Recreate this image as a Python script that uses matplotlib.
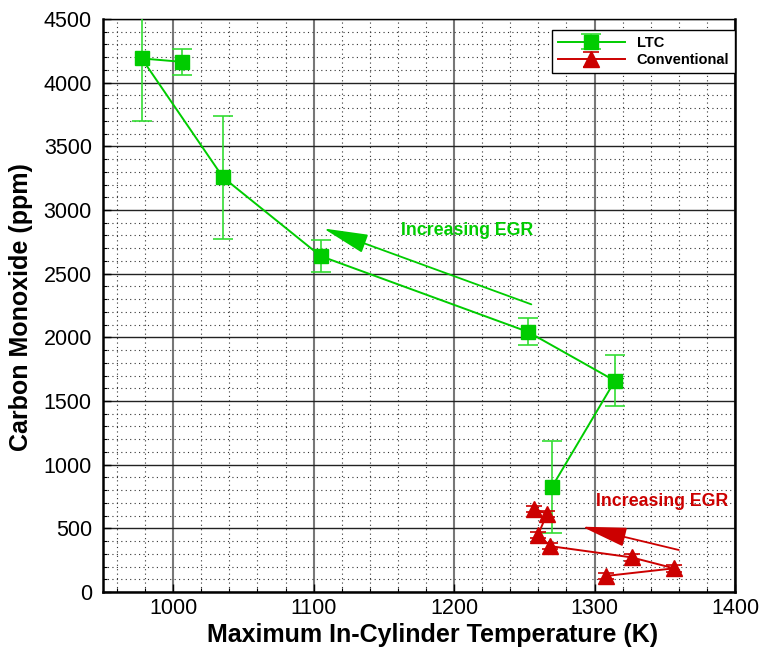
import numpy as np
import matplotlib.pyplot as plt
from matplotlib.ticker import MultipleLocator

# LTC runs (temperature K, CO ppm, error ppm)
ltc_temp = [1006.6, 977.6, 1035.5, 1105.0, 1252.6, 1314.5, 1269.8]
ltc_co = [4163, 4190, 3256, 2638, 2043, 1659, 827]
ltc_err = [105, 490, 480, 125, 105, 200, 360]

# conventional runs
conv_temp = [1256.9, 1266.2, 1259.8, 1268.6, 1326.4, 1356.6, 1308.0]
conv_co = [650, 615, 450, 360, 272, 186, 126]
conv_err = [25, 25, 25, 25, 25, 25, 25]

# EGR direction arrows (tail -> head)
ltc_arrow = [(1255, 2259), (1107, 2855)]
conv_arrow = [(1360, 330), (1291, 513)]

green = '#00cc00'
red = '#cc0000'

plt.rcParams['font.family'] = ['Liberation Sans', 'DejaVu Sans']

fig = plt.figure(figsize=(7.61, 6.52), dpi=100)
ax = fig.add_axes([0.1353, 0.092, 0.8305, 0.8789])

ax.errorbar(ltc_temp, ltc_co, yerr=ltc_err, color=green, marker='s', markersize=10.5,
            linewidth=1.4, elinewidth=1.2, capsize=7, capthick=1.2, ecolor='#33dd33',
            label='LTC', zorder=5)
ax.errorbar(conv_temp, conv_co, yerr=conv_err, color=red, marker='^', markersize=11,
            linewidth=1.4, elinewidth=1.2, capsize=6, capthick=1.2,
            label='Conventional', zorder=5)

ax.annotate('', xy=ltc_arrow[1], xytext=ltc_arrow[0],
            arrowprops=dict(arrowstyle='-|>,head_length=2.8,head_width=0.6',
                            color=green, lw=1.3, shrinkA=0, shrinkB=0))
ax.annotate('', xy=conv_arrow[1], xytext=conv_arrow[0],
            arrowprops=dict(arrowstyle='-|>,head_length=2.8,head_width=0.6',
                            color=red, lw=1.3, shrinkA=0, shrinkB=0))
ax.text(1209, 2840, 'Increasing EGR', color=green, fontsize=12.8, fontweight='bold',
        ha='center', va='center')
ax.text(1348, 707, 'Increasing EGR', color=red, fontsize=12.8, fontweight='bold',
        ha='center', va='center')

ax.set_xlim(950, 1400)
ax.set_ylim(0, 4500)
ax.xaxis.set_major_locator(MultipleLocator(100))
ax.xaxis.set_minor_locator(MultipleLocator(20))
ax.yaxis.set_major_locator(MultipleLocator(500))
ax.yaxis.set_minor_locator(MultipleLocator(100))

ax.grid(True, which='minor', color='#333333', linestyle=(0, (1, 3)), linewidth=0.8)
ax.xaxis.grid(True, which='major', color='#777777', linestyle='-', linewidth=1.5)
ax.yaxis.grid(True, which='major', color='#222222', linestyle='-', linewidth=1.0)
ax.set_axisbelow(True)

ax.tick_params(which='both', direction='in', labelsize=15.5, top=False, right=False)
ax.tick_params(axis='y', which='major', length=6, width=1, pad=8)
ax.tick_params(axis='x', which='major', length=6, width=1, pad=4)
ax.tick_params(which='minor', length=3, width=0.8)
for side in ['left', 'bottom', 'right']:
    ax.spines[side].set_linewidth(1.8)
ax.spines['top'].set_linewidth(1.0)

ax.set_xlabel('Maximum In-Cylinder Temperature (K)', fontsize=18, fontweight='bold')
ax.set_ylabel('Carbon Monoxide (ppm)', fontsize=18, fontweight='bold')
ax.xaxis.set_label_coords(0.522, -0.054)
ax.yaxis.set_label_coords(-0.111, 0.497)

leg = ax.legend(loc='upper right', bbox_to_anchor=(1.0, 0.981), fancybox=False,
                edgecolor='black', framealpha=1, prop={'weight': 'bold', 'size': 10.5},
                handlelength=4.6, borderaxespad=0, labelspacing=0.25,
                borderpad=0.4)
leg.get_frame().set_linewidth(1.0)

fig.savefig('out.png', dpi=100)
